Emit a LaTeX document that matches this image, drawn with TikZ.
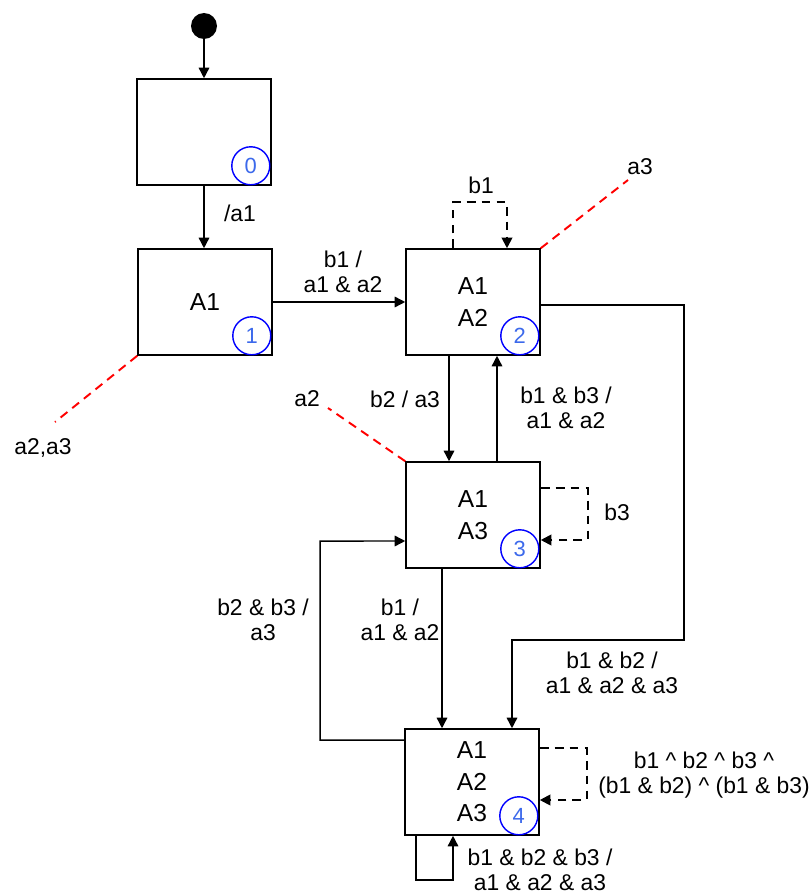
\documentclass[tikz,border=0pt]{standalone}
\usepackage{fontspec}
\setmainfont{Liberation Sans}
\usetikzlibrary{arrows.meta, positioning, calc}
\definecolor{numblue}{RGB}{60,105,235}
\tikzset{
  box/.style={draw, line width=0.9pt, minimum width=2.68cm, minimum height=2.12cm, align=center, font=\fontsize{14}{18}\selectfont},
  badge/.style={draw=blue, line width=0.8pt, circle, minimum size=0.76cm, inner sep=0pt, text=numblue, font=\fontsize{12.5}{14}\selectfont},
  lab/.style={align=center, font=\fontsize{13}{14.5}\selectfont},
  wire/.style={->, line width=0.85pt},
  loopline/.style={->, line width=1.1pt, dash pattern=on 5pt off 3.5pt},
  assoc/.style={red, line width=1.1pt, dash pattern=on 5pt off 3.5pt},
}

\begin{document}
\begin{tikzpicture}[x=0.02cm, y=-0.02cm, >={Triangle[length=6pt,width=6pt]}]
  \useasboundingbox (0,0) rectangle (811,895);

  \node[circle, fill, minimum size=0.52cm, inner sep=0pt] (init) at (204,26) {};
  \node[box] (s0) at (204,132) {};
  \node[box] (s1) at (205,302) {A1};
  \node[box] (s2) at (473,302) {A1\\A2};
  \node[box] (s3) at (473,515) {A1\\A3};
  \node[box] (s4) at (472,782) {A1\\A2\\A3};

  \node[badge] (n0) at ($(s0.south east)+(-21,-20)$) {0};
  \node[badge] (n1) at ($(s1.south east)+(-21,-20)$) {1};
  \node[badge] (n2) at ($(s2.south east)+(-21,-20)$) {2};
  \node[badge] (n3) at ($(s3.south east)+(-21,-20)$) {3};
  \node[badge] (n4) at ($(s4.south east)+(-21,-20)$) {4};

  \coordinate (bend) at (684,640);
  \coordinate (back) at (320,541);
  \coordinate (tip3) at (628,180);
  \coordinate (tip23) at (55,422);
  \coordinate (tip2) at (328,408);

  \draw[wire] (init) -- (s0);
  \draw[wire] (s0.south) -- (s0.south |- s1.north);
  \draw[wire] (s1) -- (s2);
  \draw[wire] ([xshift=-0.48cm]s2.south) -- ([xshift=-0.48cm]s3.north);
  \draw[wire] ([xshift=0.48cm]s3.north) -- ([xshift=0.48cm]s2.south);
  \draw[wire] ([xshift=-0.62cm]s3.south) -- ([xshift=-0.62cm]s3.south |- s4.north);
  \draw[wire] ([yshift=-0.06cm]s2.east) -| (bend) -| ([xshift=0.8cm]s4.north);
  \draw[wire] ([yshift=0.84cm]s4.west) -| (back) -- ([yshift=-0.52cm]s3.west);
  \draw[wire] ([xshift=-1.12cm]s4.south) -- ++(0,44) -| ([xshift=-0.38cm]s4.south);

  \draw[loopline] ([xshift=-0.4cm]s2.north) -- ++(0,-46) -| ([xshift=0.68cm]s2.north);
  \draw[loopline] ([yshift=0.54cm]s3.east) -- ++(47,0) |- ([yshift=-0.5cm]s3.east);
  \draw[loopline] ([yshift=0.68cm]s4.east) -- ++(47,0) |- ([yshift=-0.36cm]s4.east);

  \draw[assoc] (s2.north east) -- (tip3);
  \draw[assoc] (s1.south west) -- (tip23);
  \draw[assoc] (s3.north west) -- (tip2);

  \node[lab] (l01) at (240,213) {/a1};
  \node[lab] (l12) at (343,272) {b1 /\\a1 \& a2};
  \node[lab] (l22) at (481,185) {b1};
  \node[lab] (la3) at (640,167) {a3};
  \node[lab] (la23) at (43,448) {a2,a3};
  \node[lab] (la2) at (307,399) {a2};
  \node[lab] (l23) at (405,399) {b2 / a3};
  \node[lab] (l32) at (566,408) {b1 \& b3 /\\a1 \& a2};
  \node[lab] (l33) at (617,512) {b3};
  \node[lab] (l43) at (263,620) {b2 \& b3 /\\a3};
  \node[lab] (l34) at (400,620) {b1 /\\a1 \& a2};
  \node[lab] (l24) at (612,673) {b1 \& b2 /\\a1 \& a2 \& a3};
  \node[lab] (l44) at (704,775) {b1 \^{} b2 \^{} b3 \^{}\\(b1 \& b2) \^{} (b1 \& b3)};
  \node[lab] (l44b) at (540,870) {b1 \& b2 \& b3 /\\a1 \& a2 \& a3};
\end{tikzpicture}
\end{document}
